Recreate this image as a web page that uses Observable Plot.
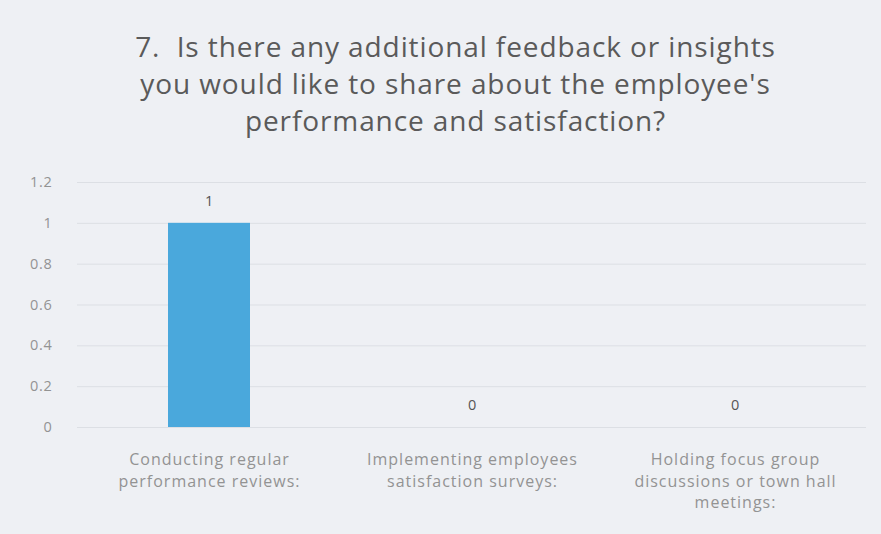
<!DOCTYPE html>
<html>
<head>
<meta charset="utf-8">
<script src="https://cdn.jsdelivr.net/npm/d3@7"></script>
<script src="https://cdn.jsdelivr.net/npm/@observablehq/plot@0.6"></script>
<style>
  html, body { margin: 0; padding: 0; background: #eef0f4; }
  #wrap { width: 881px; height: 534px; overflow: hidden; background: #eef0f4; }
  #title { height: 160px; box-sizing: border-box; padding-top: 28px; padding-left: 30px; text-align: center;
    font-family: "Open Sans", sans-serif; font-size: 28px; line-height: 37px; color: #5a5a5a;
    letter-spacing: 0.9px; white-space: nowrap; }
  #chart svg text { letter-spacing: 0.7px; }
  #chart svg g.xlab text { letter-spacing: 1px; }
</style>
</head>
<body>
<div id="wrap">
  <div id="title">7.&nbsp; Is there any additional feedback or insights<br>you would like to share about the employee's<br>performance and satisfaction?</div>
  <div id="chart"></div>
</div>
<script>
const categories = [
  "Conducting regular performance reviews:",
  "Implementing employees satisfaction surveys:",
  "Holding focus group discussions or town hall meetings:"
];
const tickLabels = [
  "Conducting regular\nperformance reviews:",
  "Implementing employees\nsatisfaction surveys:",
  "Holding focus group\ndiscussions or town hall\nmeetings:"
];
const values = [1, 0, 0];
const yTicks = [0, 0.2, 0.4, 0.6, 0.8, 1, 1.2];
const yTickLabels = ["0", "0.2", "0.4", "0.6", "0.8", "1", "1.2"];

const data = categories.map((c, i) => ({category: c, value: values[i]}));
const labelOf = new Map(categories.map((c, i) => [c, tickLabels[i]]));

const chart = Plot.plot({
  width: 881,
  height: 374,
  marginTop: 22,
  marginBottom: 107,
  marginLeft: 77,
  marginRight: 15,
  style: {background: "transparent", fontFamily: "Open Sans, sans-serif"},
  x: {domain: categories, paddingInner: 0.69, paddingOuter: 0.345, label: null},
  y: {domain: [0, 1.2], label: null},
  marks: [
    Plot.ruleY(yTicks, {stroke: "#dcdfe4", strokeWidth: 1}),
    Plot.barY(data, {x: "category", y: "value", fill: "#4aa8dc"}),
    Plot.text(data, {x: "category", y: "value", text: d => String(d.value), dy: -22, fill: "#555", fontSize: 14.5}),
    Plot.axisY(yTicks, {tickSize: 0, tickPadding: 25, tickFormat: (d, i) => yTickLabels[i], fill: "#939393", fontSize: 14.5, label: null}),
    Plot.axisX({tickSize: 0, tickPadding: 22, tickFormat: d => labelOf.get(d), fill: "#939393", fontSize: 16, lineHeight: 1.36, label: null, className: "xlab"})
  ]
});
document.getElementById("chart").appendChild(chart);
</script>
</body>
</html>
